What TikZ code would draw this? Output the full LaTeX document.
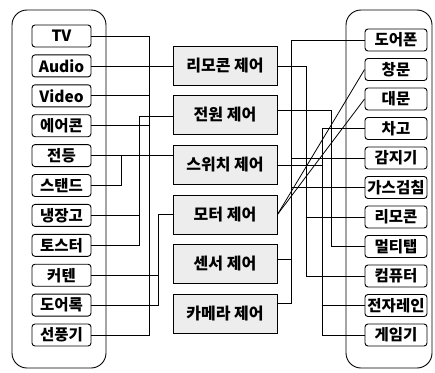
\documentclass[tikz,border=0pt]{standalone}
\usepackage{fontspec}
\newfontfamily\kr{Noto Sans CJK KR}
\begin{document}
\begin{tikzpicture}[x=1pt,y=-1pt,
  dev/.style={draw, rounded corners=3pt, minimum width=59pt, minimum height=22pt, inner sep=0pt, line width=0.9pt, font=\kr\bfseries\fontsize{15.5}{15.5}\selectfont},
  rdev/.style={dev, minimum width=62pt},
  ctl/.style={draw, fill=black!7, minimum width=104pt, minimum height=39pt, inner sep=0pt, line width=0.9pt, font=\kr\bfseries\fontsize{16}{16}\selectfont},
  cont/.style={draw, rounded corners=15pt, line width=0.9pt},
  wire/.style={line width=0.8pt}]
\useasboundingbox (0,0) rectangle (435,372);
% containers
\draw[cont] (12,10) rectangle (106,368);
\draw[cont] (346,10) rectangle (432,368);
% left devices
\node[dev] (l1)  at (61.5,36)    {TV};
\node[dev] (l2)  at (61.5,65.9)  {Audio};
\node[dev] (l3)  at (61.5,95.8)  {Video};
\node[dev] (l4)  at (61.5,125.7) {에어콘};
\node[dev] (l5)  at (61.5,155.6) {전등};
\node[dev] (l6)  at (61.5,185.5) {스탠드};
\node[dev] (l7)  at (61.5,215.4) {냉장고};
\node[dev] (l8)  at (61.5,245.3) {토스터};
\node[dev] (l9)  at (61.5,275.2) {커텐};
\node[dev] (l10) at (61.5,305.1) {도어록};
\node[dev] (l11) at (61.5,335)   {선풍기};
% right devices
\node[rdev] (r1)  at (396,40)    {도어폰};
\node[rdev] (r2)  at (396,69.5)  {창문};
\node[rdev] (r3)  at (396,99)    {대문};
\node[rdev] (r4)  at (396,128.5) {차고};
\node[rdev] (r5)  at (396,158)   {감지기};
\node[rdev] (r6)  at (396,187.5) {가스검침};
\node[rdev] (r7)  at (396,217)   {리모콘};
\node[rdev] (r8)  at (396,246.5) {멀티탭};
\node[rdev] (r9)  at (396,276)   {컴퓨터};
\node[rdev] (r10) at (396,305.5) {전자레인};
\node[rdev] (r11) at (396,335)   {게임기};
% controllers
\node[ctl] (c1) at (225,65.9)  {리모콘 제어};
\node[ctl] (c2) at (225,115)   {전원 제어};
\node[ctl] (c3) at (225,165)   {스위치 제어};
\node[ctl] (c4) at (225,214.5) {모터 제어};
\node[ctl] (c5) at (225,264)   {센서 제어};
\node[ctl] (c6) at (225,313.5) {카메라 제어};
% bus coordinates
\coordinate (bA) at (149,0);
\coordinate (pB) at (139,116);
\coordinate (bC) at (121,0);
\coordinate (pD) at (158,214);
\coordinate (pE5) at (291,259);
\coordinate (pE6) at (291,303);
\coordinate (pF) at (306,66);
\coordinate (bG) at (322,0);
\coordinate (pG) at (322,165);
\coordinate (pH) at (331,110);
% left wiring
\draw[wire] (l1.east) -| (bA |- l11.east) -- (l11.east);
\draw[wire] (l2.east) -- (l2.east -| c1.west);
\draw[wire] (l3.east) -- (l3.east -| bA);
\draw[wire] (l4.east) -- (l4.east -| bA);
\draw[wire] (c2.west |- pB) -- (pB) |- (l8.east);
\draw[wire] (l7.east) -- (l7.east -| pB);
\draw[wire] (l5.east) -- (l5.east -| c3.west);
\draw[wire] (l6.east) -| (l5.east -| bC);
\draw[wire] (c4.west |- pD) -- (pD) |- (l10.east);
\draw[wire] (l9.east) -- (l9.east -| pD);
% right wiring
\draw[wire] (r1.west) -| (pE6) -- (pE6 -| c6.east);
\draw[wire] (pE5) -- (pE5 -| c5.east);
\draw[wire] (r5.west) -- (r5.west -| pE5);
\draw[wire] (r6.west) -- (r6.west -| pE5);
\draw[wire] (c1.east |- pF) -- (pF) |- (r9.west);
\draw[wire] (r7.west) -- (r7.west -| pF);
\draw[wire] (r4.west) -| (bG |- r11.west) -- (r11.west);
\draw[wire] (c3.east |- pG) -- (pG);
\draw[wire] (r10.west) -- (r10.west -| bG);
\draw[wire] (c2.east |- pH) -- (pH) |- (r8.west);
\draw[wire] (c4.east) -- (r2.west);
\draw[wire] (c4.east) -- (r3.west);
\end{tikzpicture}
\end{document}
